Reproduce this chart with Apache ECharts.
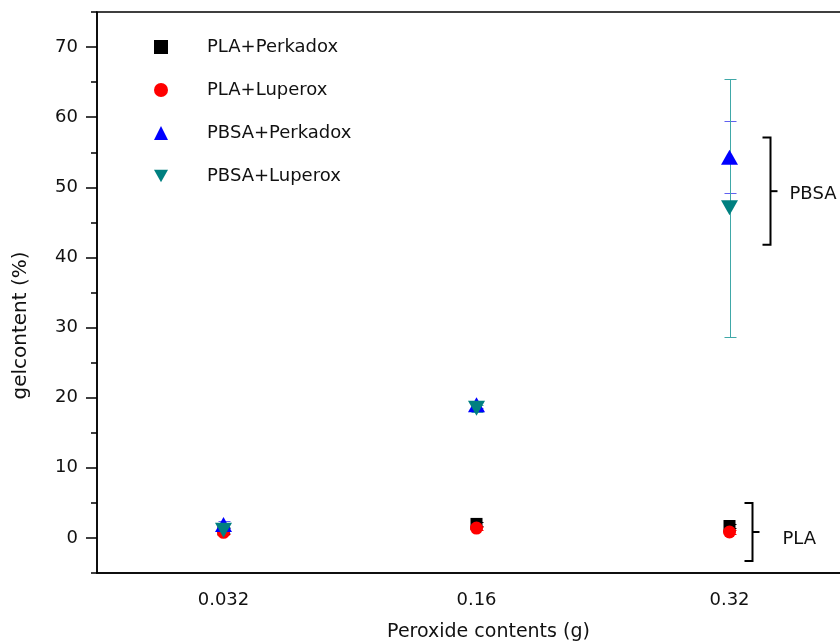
<!DOCTYPE html>
<html>
<head>
<meta charset="utf-8">
<script src="https://cdn.jsdelivr.net/npm/echarts@6/dist/echarts.min.js"></script>
<style>
  html, body { margin: 0; padding: 0; background: #fff; }
  #chart { width: 840px; height: 643px; }
</style>
</head>
<body>
<div id="chart"></div>
<script>
// Peroxide loading on the x axis (g)
const categories = ['0.032', '0.16', '0.32'];

// Gel content (%) per formulation, with standard deviations
const plaPerkadox = [1.2, 2.0, 1.7];
const plaPerkadoxErr = [0.2, 0.3, 0.3];
const plaLuperox = [0.8, 1.4, 0.85];
const plaLuperoxErr = [0.2, 0.2, 0.3];
const pbsaPerkadox = [1.9, 19.0, 54.3];
const pbsaPerkadoxErr = [0.5, 0.4, 5.1];
const pbsaLuperox = [1.1, 18.5, 47.1];
const pbsaLuperoxErr = [0.4, 0.5, 18.4];

// Y axis tick positions
const yMajorTicks = [0, 10, 20, 30, 40, 50, 60, 70];
const yMinorTicks = [-5, 5, 15, 25, 35, 45, 55, 65, 75];

// Group brackets: label, lower and upper gel content spanned
const bracketLabels = ['PBSA', 'PLA'];
const bracketLow = [41.8, -3.3];
const bracketHigh = [57.1, 5.0];

const FONT = 'DejaVu Sans';
const FS = 18;
const TEXT = '#111';

const seriesDefs = [
  { name: 'PLA+Perkadox', values: plaPerkadox, err: plaPerkadoxErr, color: '#000000', barColor: '#000000', symbol: 'rect', size: 12 },
  { name: 'PLA+Luperox', values: plaLuperox, err: plaLuperoxErr, color: '#ff0000', barColor: '#ff0000', symbol: 'circle', size: 13 },
  { name: 'PBSA+Perkadox', values: pbsaPerkadox, err: pbsaPerkadoxErr, color: '#0000ff', barColor: '#6060f0', symbol: 'triangle', size: [17, 15] },
  { name: 'PBSA+Luperox', values: pbsaLuperox, err: pbsaLuperoxErr, color: '#008080', barColor: '#40a8a8', symbol: 'path://M0,0 L2,0 L1,1.8 Z', size: [17, 15] }
];

const series = [];

// Error bars first so the markers sit on top
seriesDefs.forEach(function (d, k) {
  series.push({
    type: 'custom',
    name: d.name + ' sd',
    z: 2 + k,
    silent: true,
    data: d.values.map(function (v, i) { return [i, v, d.err[i]]; }),
    renderItem: function (params, api) {
      const x = api.value(0), v = api.value(1), e = api.value(2);
      const top = api.coord([x, v + e]);
      const bot = api.coord([x, v - e]);
      const cx = Math.round(top[0]) + 0.5;
      const ty = Math.round(top[1]) + 0.5;
      const by = Math.round(bot[1]) + 0.5;
      const hw = 6;
      const style = { stroke: d.barColor, lineWidth: 1, fill: null };
      return {
        type: 'group',
        children: [
          { type: 'line', shape: { x1: cx, y1: ty, x2: cx, y2: by }, style: style },
          { type: 'line', shape: { x1: cx - hw, y1: ty, x2: cx + hw, y2: ty }, style: style },
          { type: 'line', shape: { x1: cx - hw, y1: by, x2: cx + hw, y2: by }, style: style }
        ]
      };
    }
  });
});

seriesDefs.forEach(function (d, k) {
  series.push({
    type: 'scatter',
    name: d.name,
    z: 10 + k,
    symbol: d.symbol,
    symbolSize: d.size,
    itemStyle: { color: d.color, opacity: 1 },
    data: d.values.map(function (v, i) { return [i, v]; })
  });
});

// Brackets grouping the PBSA and PLA results at the highest loading
series.push({
  type: 'custom',
  name: 'groups',
  z: 20,
  silent: true,
  data: bracketLabels.map(function (lab, i) { return [2, bracketLow[i], bracketHigh[i], i]; }),
  renderItem: function (params, api) {
    const idx = api.value(3);
    const lo = api.coord([api.value(0), api.value(1)]);
    const hi = api.coord([api.value(0), api.value(2)]);
    const offset = idx === 0 ? 41 : 23;
    const x = lo[0] + offset;
    const midY = (lo[1] + hi[1]) / 2;
    const s = { stroke: '#000', lineWidth: 2, fill: null };
    return {
      type: 'group',
      children: [
        { type: 'polyline', shape: { points: [[x - 8, hi[1]], [x, hi[1]], [x, lo[1]], [x - 8, lo[1]]] }, style: s },
        { type: 'line', shape: { x1: x, y1: midY, x2: x + 7, y2: midY }, style: s },
        {
          type: 'text',
          x: x + (idx === 0 ? 19 : 30),
          y: midY + (idx === 0 ? 3 : 7),
          style: { text: bracketLabels[idx], fill: TEXT, font: FS + 'px "' + FONT + '"', verticalAlign: 'middle', align: 'left' }
        }
      ]
    };
  }
});

const chart = echarts.init(document.getElementById('chart'), null, { renderer: 'canvas' });
chart.setOption({
  animation: false,
  backgroundColor: '#ffffff',
  grid: {
    left: 97, top: 12, right: -16, bottom: 70,
    containLabel: false,
    outerBoundsMode: 'none',
    show: true, borderColor: '#000', borderWidth: 1.5, backgroundColor: 'transparent'
  },
  legend: {
    orient: 'vertical',
    left: 149, top: 33,
    itemWidth: 14, itemHeight: 14, itemGap: 25,
    data: seriesDefs.map(function (d) { return d.name; }),
    textStyle: { fontFamily: FONT, fontSize: FS, color: TEXT, padding: [0, 0, 0, 34] }
  },
  xAxis: {
    type: 'category',
    data: categories,
    boundaryGap: true,
    name: 'Peroxide contents (g)',
    nameLocation: 'middle',
    nameGap: 50,
    nameTextStyle: { fontFamily: FONT, fontSize: 19, color: TEXT, padding: [0, 0, 0, 24] },
    axisLine: { onZero: false, lineStyle: { color: '#000', width: 1.5 } },
    axisTick: { alignWithLabel: true, length: 10, lineStyle: { color: '#000', width: 1.5 } },
    axisLabel: { fontFamily: FONT, fontSize: FS, color: TEXT, margin: 18 },
    splitLine: { show: false }
  },
  yAxis: [
    {
      type: 'value',
      min: -5, max: 75,
      name: 'gelcontent (%)',
      nameLocation: 'middle',
      nameGap: 66,
      nameTextStyle: { fontFamily: FONT, fontSize: 20, color: TEXT, padding: [0, 66, 0, 0] },
      axisLine: { show: true, onZero: false, lineStyle: { color: '#000', width: 1.5 } },
      axisTick: { show: true, length: 11, customValues: yMajorTicks, lineStyle: { color: '#000', width: 1.5 } },
      axisLabel: { fontFamily: FONT, fontSize: FS, color: TEXT, margin: 19, customValues: yMajorTicks },
      splitLine: { show: false }
    },
    {
      type: 'value',
      min: -5, max: 75,
      position: 'left',
      axisLine: { show: false },
      axisTick: { show: true, length: 6, customValues: yMinorTicks, lineStyle: { color: '#000', width: 1.5 } },
      axisLabel: { show: false },
      splitLine: { show: false }
    }
  ],
  series: series
});
</script>
</body>
</html>
